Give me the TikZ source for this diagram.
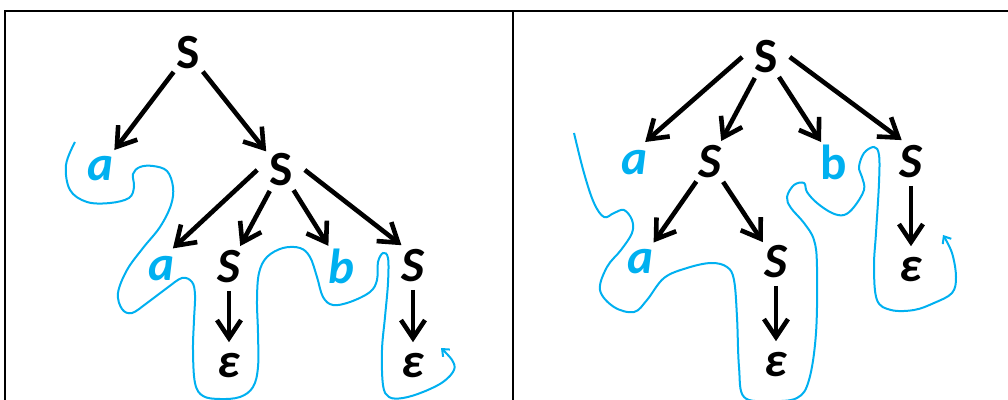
\documentclass[tikz,border=0pt]{standalone}
\usepackage{fontspec}
\setmainfont{Carlito}
\usetikzlibrary{arrows.meta}
\definecolor{tracecol}{RGB}{0,176,240}

\begin{document}
\begin{tikzpicture}[x=0.025cm,y=-0.025cm,>={Straight Barb[length=0.45cm,width=0.6cm]},
    sym/.style={circle,minimum size=1.175cm,inner sep=0pt,font=\fontsize{35}{40}\selectfont\bfseries},
    isym/.style={sym,font=\fontsize{35}{40}\selectfont\bfseries\itshape},
    term/.style={isym,text=tracecol},
    derive/.style={->,line width=0.115cm},
    trace/.style={tracecol,line width=0.05cm,smooth,tension=0.6}]
  \useasboundingbox (0,0) rectangle (1008,400);
  \draw[line width=0.065cm] (5,400) -- (5,11) -- (1008,11) (513,11) -- (513,400);

  % left derivation
  \node[sym] (l0) at (188,53) {S};
  \node[term] (la1) at (100,169) {a};
  \node[sym] (l1) at (281,170) {S};
  \node[term] (la2) at (161,269) {a};
  \node[isym] (l2) at (229,267) {S};
  \node[term] (lb) at (341,266) {b};
  \node[isym] (l3) at (413,266) {S};
  \node[isym] (le1) at (229,366) {ε};
  \node[isym] (le2) at (413,366) {ε};
  \draw[derive] (l0) -- (la1);
  \draw[derive] (l0) -- (l1);
  \draw[derive] (l1.west) -- (la2.60);
  \draw[derive] (l1) -- (l2);
  \draw[derive] (l1) -- (lb);
  \draw[derive] (l1.east) -- (l3.119);
  \draw[derive] (l2) -- (le1);
  \draw[derive] (l3) -- (le2);
  \draw[trace,-{Straight Barb[length=0.15cm,width=0.25cm]}] plot coordinates {(75,142) (66,165) (70,190) (87,202) (110,203) (129,198) (134,187) (133,174) (140,167) (153,166) (167,171) (173,187) (171,205) (160,227) (143,248) (127,270) (118,293) (122,309) (132,313) (147,303) (167,288) (182,278) (192,282) (195,295) (194,320) (193,350) (195,383) (203,396) (220,399) (240,397) (253,387) (258,367) (258,333) (257,300) (259,273) (267,257) (283,248) (300,248) (310,257) (317,277) (323,297) (333,305) (350,302) (370,292) (377,280) (378,262) (383,253) (388,258) (388,283) (385,317) (382,350) (383,385) (389,397) (403,398) (423,392) (443,382) (454,370) (452,360) (441,348)};

  % right derivation
  \node[sym] (r0) at (766,57) {S};
  \node[term] (ra1) at (634,163) {a};
  \node[isym] (r1) at (710,162) {S};
  \node[sym,text=tracecol] (rb) at (834,162) {b};
  \node[isym] (r2) at (911,162) {S};
  \node[term] (ra2) at (640,262) {a};
  \node[isym] (r3) at (776,262) {S};
  \node[isym] (re1) at (776,365) {ε};
  \node[isym] (re2) at (911,270) {ε};
  \draw[derive] (r0.west) -- (ra1.62);
  \draw[derive] (r0) -- (r1);
  \draw[derive] (r0) -- (rb);
  \draw[derive] (r0.east) -- (r2.113);
  \draw[derive] (r1) -- (ra2);
  \draw[derive] (r1) -- (r3);
  \draw[derive] (r3) -- (re1);
  \draw[derive] (r2) -- (re2);
  \draw[trace,-{Straight Barb[length=0.15cm,width=0.25cm]}] plot coordinates {(574,133) (584,173) (594,203) (604,217) (614,213) (624,210) (632,220) (632,233) (621,250) (607,267) (600,290) (614,307) (634,312) (647,300) (664,278) (687,268) (711,263) (727,267) (734,280) (737,317) (739,367) (744,397) (770,401) (797,398) (809,380) (816,333) (817,267) (814,240) (804,223) (791,208) (787,197) (794,185) (804,183) (807,192) (817,203) (832,213) (844,215) (854,207) (864,190) (862,177) (859,167) (864,153) (874,147) (879,155) (879,183) (876,233) (874,267) (877,300) (891,310) (914,310) (934,303) (952,293) (956,277) (952,253) (943,235)};
\end{tikzpicture}
\end{document}
